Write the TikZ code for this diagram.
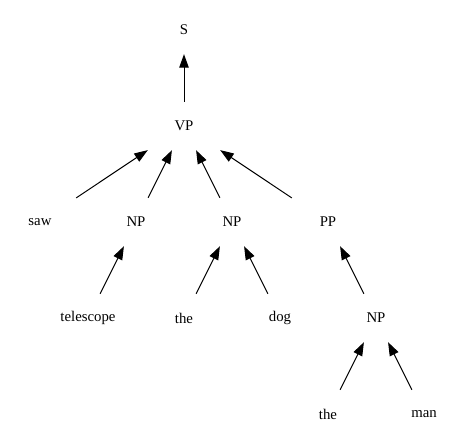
\documentclass[tikz,border=0pt]{standalone}
\usepackage{fontspec}
\setmainfont{Liberation Serif}
\usetikzlibrary{arrows.meta}
\begin{document}
\begin{tikzpicture}[x=1pt,y=-1pt,
  lbl/.style={rectangle,minimum width=72pt,minimum height=48pt,inner sep=0pt,
    font=\fontsize{14.8}{17}\selectfont},
  edge/.style={draw=black,line width=1pt,-{Triangle[length=13.5pt,width=9.5pt]}}]
\useasboundingbox (0,0) rectangle (467,443);
\node[lbl] (S) at (184,30) {S};
\node[lbl] (VP) at (184,126) {VP};
\node[lbl] (saw) at (40,222) {saw};
\node[lbl] (NPa) at (136,222) {NP};
\node[lbl] (NPb) at (232,222) {NP};
\node[lbl] (PP) at (328,222) {PP};
\node[lbl] (tel) at (88,318) {telescope};
\node[lbl] (the1) at (184,318) {the};
\node[lbl] (dog) at (280,318) {dog};
\node[lbl] (NPc) at (376,318) {NP};
\node[lbl] (the2) at (328,414) {the};
\node[lbl] (man) at (424,414) {man};
\draw[edge] (VP) -- (S);
\draw[edge] (saw) -- (VP);
\draw[edge] (NPa) -- (VP);
\draw[edge] (NPb) -- (VP);
\draw[edge] (PP) -- (VP);
\draw[edge] (tel) -- (NPa);
\draw[edge] (the1) -- (NPb);
\draw[edge] (dog) -- (NPb);
\draw[edge] (NPc) -- (PP);
\draw[edge] (the2) -- (NPc);
\draw[edge] (man) -- (NPc);
\end{tikzpicture}
\end{document}
